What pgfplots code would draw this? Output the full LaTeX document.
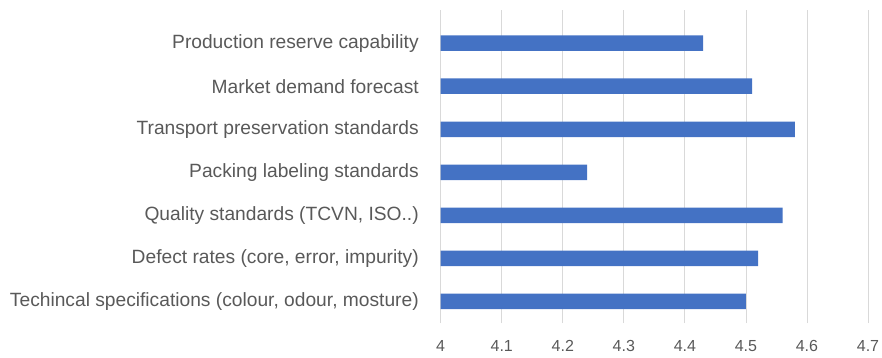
\documentclass[border=0pt]{standalone}
\usepackage{pgfplots}
\pgfplotsset{compat=1.18}
\usepackage{fontspec}
\setmainfont{Liberation Sans}
\definecolor{barblue}{HTML}{4472C4}
\definecolor{txtgray}{HTML}{595959}
\definecolor{gridgray}{HTML}{D9D9D9}
\begin{document}
\begin{tikzpicture}
\path[use as bounding box] (-440.7pt,-34pt) rectangle (441.3pt,323pt);
\begin{axis}[
  at={(0pt,0pt)}, anchor=south west,
  scale only axis, width=427.3pt, height=313pt,
  xmin=4, xmax=4.7, ymin=-0.5, ymax=6.77,
  axis line style={draw=none},
  xmajorgrids, grid style={gridgray, line width=0.8pt},
  major tick style={draw=none},
  xtick={4,4.1,4.2,4.3,4.4,4.5,4.6,4.7},
  xticklabels={4,4.1,4.2,4.3,4.4,4.5,4.6,4.7},
  ytick={0,1,2,3,4,5,6},
  yticklabels={{Techincal specifications (colour, odour, mosture)},
    {Defect rates (core, error, impurity)},
    {Quality standards (TCVN, ISO..)},
    Packing labeling standards,
    Transport preservation standards,
    Market demand forecast,
    Production reserve capability},
  yticklabel style={font=\fontsize{19.2}{21}\selectfont, text=txtgray, anchor=east, inner sep=0pt, xshift=-17.5pt},
  xticklabel style={font=\fontsize{16}{18}\selectfont, text=txtgray, anchor=north, inner sep=0pt, yshift=-17pt},
  /pgf/number format/assume math mode=true,
  xbar, bar width=15.5pt,
]
\addplot[fill=barblue, draw=none] coordinates {
  (4.50,0) (4.52,1) (4.56,2) (4.24,3) (4.58,4) (4.51,5) (4.43,6)
};
\end{axis}
\end{tikzpicture}
\end{document}
